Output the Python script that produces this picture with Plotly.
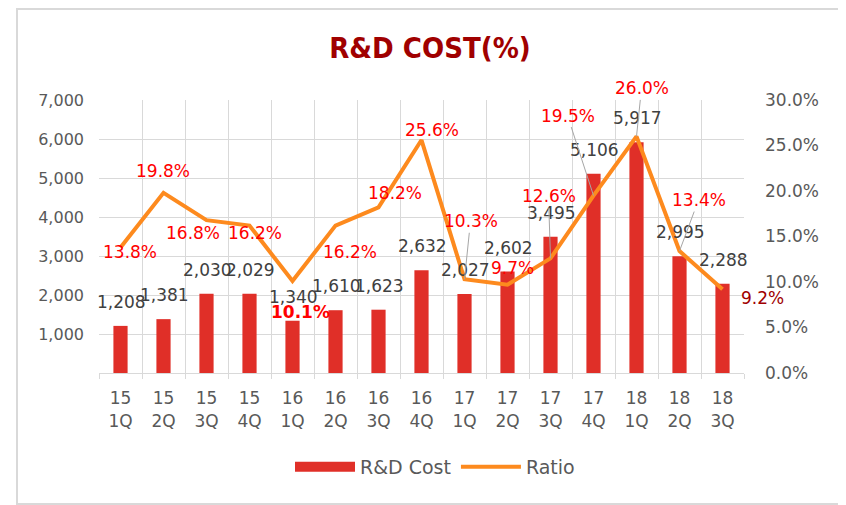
import plotly.graph_objects as go

# ---- data ----
quarters = ["15<br>1Q", "15<br>2Q", "15<br>3Q", "15<br>4Q",
            "16<br>1Q", "16<br>2Q", "16<br>3Q", "16<br>4Q",
            "17<br>1Q", "17<br>2Q", "17<br>3Q", "17<br>4Q",
            "18<br>1Q", "18<br>2Q", "18<br>3Q"]
rd_cost = [1208, 1381, 2030, 2029, 1340, 1610, 1623, 2632,
           2027, 2602, 3495, 5106, 5917, 2995, 2288]
ratio = [13.8, 19.8, 16.8, 16.2, 10.1, 16.2, 18.2, 25.6,
         10.3, 9.7, 12.6, 19.5, 26.0, 13.4, 9.2]
left_ticks = [1000, 2000, 3000, 4000, 5000, 6000, 7000]
right_ticks = [0, 5, 10, 15, 20, 25, 30]

# ---- label placement (pixel offsets, styling only) ----
ratio_dx = [9, -1, -14, 5, 8, 14, 16, 10, 6, 5, -2, -26, 5, 19, 40]
ratio_dy = [5, -22, 13, 7, 31, 26, -14, -10, -58, -17, -62, -80, -48, -51, 9]
ratio_leader = [False, False, False, False, False, False, False, False,
                True, False, True, True, True, True, False]
ratio_bold = [False, False, False, False, True, False, False, False,
              False, False, False, False, False, False, False]
ratio_color = ["#ff0000"] * 14 + ["#a00000"]

FONT = "DejaVu Sans"
GRID = "#d9d9d9"
BAR_COLOR = "#e02f28"
LINE_COLOR = "#fd8a1e"

# page layout (page pixels; the page body adds an 8px offset)
OFF = 8
FW, FH = 846 - OFF, 505 - OFF
L, R, T, B = 99, 744, 100, 373
W, H = R - L, B - T
def px(x): return (x - L) / W
def py(y): return (B - y) / H

fig = go.Figure()
fig.add_trace(go.Bar(x=quarters, y=rd_cost, name="R&D Cost", showlegend=False,
                     legendgroup="cost",
                     marker=dict(color=BAR_COLOR, line=dict(width=0)),
                     width=0.33, yaxis="y"))
# legend entry drawn as a wide block, like the original's legend key
fig.add_trace(go.Scatter(x=[None], y=[None], name="R&D Cost", mode="lines",
                         legendgroup="cost",
                         line=dict(color=BAR_COLOR, width=12), yaxis="y"))
fig.add_trace(go.Scatter(x=quarters, y=ratio, name="Ratio", mode="lines",
                         line=dict(color=LINE_COLOR, width=4), yaxis="y2"))

ann = []
for q, v in zip(quarters, rd_cost):
    ann.append(dict(x=q, y=v, xref="x", yref="y", text=f"{v:,}",
                    showarrow=False, xshift=1, yshift=24,
                    font=dict(family=FONT, size=17, color="#404040")))
for i, (q, r) in enumerate(zip(quarters, ratio)):
    txt = f"{r:.1f}%"
    if ratio_bold[i]:
        txt = f"<b>{txt}</b>"
    ann.append(dict(x=q, y=r, xref="x", yref="y2", text=txt,
                    showarrow=True, arrowhead=0, arrowwidth=1,
                    arrowcolor="#a6a6a6" if ratio_leader[i] else "rgba(0,0,0,0)",
                    standoff=0, startstandoff=0,
                    ax=ratio_dx[i], ay=ratio_dy[i],
                    font=dict(family=FONT, size=17, color=ratio_color[i])))

shapes = [dict(type="rect", xref="paper", yref="paper",
               x0=px(17), x1=px(840), y0=py(504), y1=py(9),
               line=dict(color="#d9d9d9", width=2), layer="below")]

fig.update_layout(
    width=FW, height=FH,
    margin=dict(l=L - OFF, r=FW - (R - OFF), t=T - OFF, b=FH - (B - OFF), autoexpand=False),
    paper_bgcolor="white", plot_bgcolor="white",
    title=dict(text="<b>R&D COST(%)</b>", x=(430 - OFF) / FW, xanchor="center",
               y=1 - (48 - OFF) / FH, yanchor="middle", yref="container",
               font=dict(family="DejaVu Sans Condensed", size=29, color="#a00000")),
    showlegend=True,
    legend=dict(orientation="h", x=px(435), xanchor="center", y=py(467), yanchor="middle",
                font=dict(family=FONT, size=19, color="#595959"),
                itemwidth=60, bgcolor="rgba(0,0,0,0)", tracegroupgap=0),
    xaxis=dict(type="category", range=[-0.5, 14.5], tickson="boundaries",
               showgrid=True, gridcolor=GRID, automargin=False,
               gridwidth=1, ticks="outside", ticklen=5, tickcolor=GRID,
               showline=True, linecolor=GRID, linewidth=1, ticklabelstandoff=10,
               tickfont=dict(family=FONT, size=17, color="#595959")),
    yaxis=dict(range=[0, 7000], tickvals=left_ticks,
               ticktext=[f"{v:,}" for v in left_ticks], automargin=False,
               showgrid=True, gridcolor=GRID, gridwidth=1, zeroline=False,
               showline=False, ticks="", ticklabelstandoff=14,
               tickfont=dict(family=FONT, size=16, color="#595959")),
    yaxis2=dict(range=[0, 30], tickvals=right_ticks,
                ticktext=[f"{v:.1f}%" for v in right_ticks], automargin=False,
                overlaying="y", side="right", showgrid=False, zeroline=False,
                showline=False, ticks="", ticklabelstandoff=20,
                tickfont=dict(family=FONT, size=17, color="#595959")),
    annotations=ann, shapes=shapes,
)
fig.write_html("out.html")
